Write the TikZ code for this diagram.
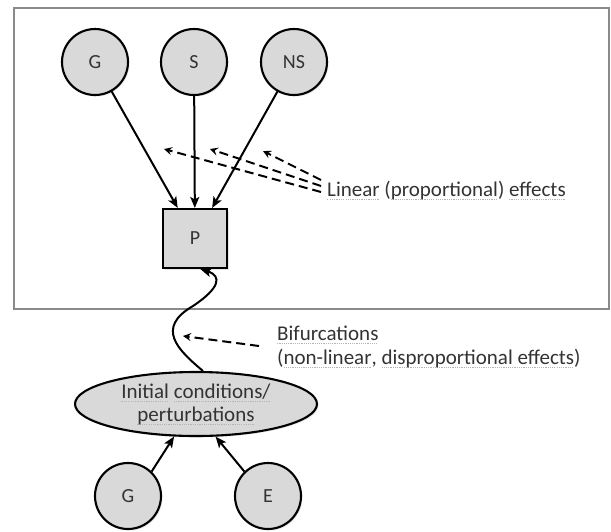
\documentclass[tikz,border=0pt]{standalone}
\usepackage{fontspec}
\setmainfont{Carlito}
\usetikzlibrary{arrows.meta,shapes.geometric,shadows}

\definecolor{shapegray}{HTML}{D9D9D9}
\definecolor{textgray}{HTML}{333333}
\definecolor{framegray}{HTML}{8A8A8A}
\definecolor{squiggray}{HTML}{B4B4B4}

% dotted spell-check underline
\newsavebox\squigbox
\newcommand\squig[1]{\sbox\squigbox{#1}\rlap{\textcolor{squiggray}{\raisebox{-3.5pt}{\hbox to \wd\squigbox{\xleaders\hbox{\vrule width 1.2pt height 1pt\hskip 1pt}\hfill}}}}\usebox\squigbox}

\tikzset{
    bubble/.style={circle, draw, line width=2.1pt, fill=shapegray, minimum size=66pt, inner sep=0pt,
        text=textgray, font=\fontsize{20}{24}\selectfont,
        drop shadow={shadow xshift=1.5pt, shadow yshift=-1.5pt, opacity=0.2}},
    solidarrow/.style={-{Stealth[length=11pt,width=9pt,inset=2.5pt]}, line width=2pt},
    dasharrow/.style={-{Stealth[length=8pt,width=8pt,inset=3pt]}, line width=2pt, dash pattern=on 9pt off 5pt},
    lbl/.style={inner sep=0pt, text=textgray, font=\fontsize{21}{25}\selectfont}
}

\begin{document}
\begin{tikzpicture}[x=1pt,y=-1pt]
        \useasboundingbox (0,0) rectangle (611,531);

        % Frame round the proportional part
        \draw [framegray, line width=1.8pt] (14,8) rectangle (609,309);

        % Top causes and phenotype
        \foreach \n/\x/\t in {gtop/95/G, s/194/S, ns/294/NS}
           {
                \node[bubble] (\n) at (\x,62) {\t};
           }
        \node[bubble, rectangle, minimum width=64pt, minimum height=59pt] (p) at (195,238.5) {P};

        \foreach \n in {gtop,s,ns}
           {
                \draw [solidarrow] (\n) -- (p);
           }

        % Linear effects label with its three arrows
        \node[lbl, anchor=base west] (lin) at (327,196) {\squig{Linear} (\squig{proportional}) \squig{effects}};
        \foreach \i/\dy/\tx/\ty in {0/16/263/151, 1/10/210/149, 2/4/164/149}
           {
                \coordinate (lt_\i) at (\tx,\ty);
                \draw [dasharrow] ([xshift=-6pt,yshift=\dy pt]lin.base west) -- (lt_\i);
           }

        % Initial conditions and their causes
        \node[bubble, ellipse, minimum width=242pt, minimum height=64pt, align=center,
              font=\fontsize{21}{23}\selectfont] (ic) at (196,404)
              {\squig{Initial} \squig{conditions/}\\\squig{perturbations}};
        \node[bubble] (gbot) at (128,496) {G};
        \node[bubble] (e) at (268,496) {E};
        \draw [solidarrow] (gbot.46) -- (ic.236);
        \draw [solidarrow] (e.134) -- (ic.-59);

        % Wavy (non-linear) link
        \coordinate (kink) at (193,306);
        \draw [solidarrow] (ic.78) .. controls (178,350) and (155,328) .. (kink)
            .. controls (220,288) and (222,276) .. (p.-80);

        \node[lbl, anchor=base west] (bif) at (277,340) {\squig{Bifurcations}};
        \node[lbl, anchor=base west] (bif2) at (277,364) {(\squig{non-linear}, \squig{disproportional effects})};
        \coordinate (bt) at (183,336);
        \draw [dasharrow] ([xshift=-18pt,yshift=-6pt]bif.base west) -- (bt);
    \end{tikzpicture}
\end{document}
